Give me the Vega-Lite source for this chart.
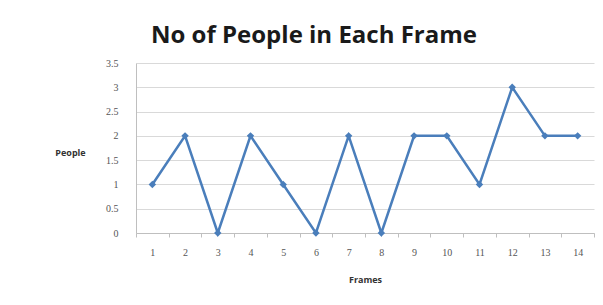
{
  "$schema": "https://vega.github.io/schema/vega-lite/v6.json",
  "width": 458,
  "height": 170,
  "autosize": {"type": "none"},
  "padding": {"left": 136, "top": 63, "right": 9, "bottom": 72},
  "background": "white",
  "title": {
    "text": "No of People in Each Frame",
    "font": "Open Sans",
    "fontSize": 24,
    "fontWeight": "bold",
    "color": "#1a1a1a",
    "anchor": "middle",
    "frame": "group",
    "dx": -51,
    "baseline": "alphabetic",
    "offset": -9
  },
  "data": {
    "values": [
      {"frame": 1, "people": 1},
      {"frame": 2, "people": 2},
      {"frame": 3, "people": 0},
      {"frame": 4, "people": 2},
      {"frame": 5, "people": 1},
      {"frame": 6, "people": 0},
      {"frame": 7, "people": 2},
      {"frame": 8, "people": 0},
      {"frame": 9, "people": 2},
      {"frame": 10, "people": 2},
      {"frame": 11, "people": 1},
      {"frame": 12, "people": 3},
      {"frame": 13, "people": 2},
      {"frame": 14, "people": 2}
    ]
  },
  "mark": {
    "type": "line",
    "color": "#4a7ebb",
    "strokeWidth": 2.5,
    "point": {"shape": "diamond", "size": 55, "filled": true, "color": "#4a7ebb"}
  },
  "encoding": {
    "x": {
      "field": "frame",
      "type": "ordinal",
      "bandPosition": 0.5,
      "scale": {"type": "band", "paddingInner": 0, "paddingOuter": 0},
      "axis": {
        "title": "Frames",
        "titleFont": "Open Sans",
        "titleFontSize": 9,
        "titleFontWeight": "bold",
        "titleColor": "#333333",
        "titleY": 46,
        "titleBaseline": "middle",
        "labelAngle": 0,
        "labelFont": "Liberation Serif",
        "labelFontSize": 10,
        "labelColor": "#555555",
        "labelPadding": 10,
        "tickBand": "extent",
        "tickSize": 4,
        "tickColor": "#bfbfbf",
        "domainColor": "#bfbfbf",
        "grid": false
      }
    },
    "y": {
      "field": "people",
      "type": "quantitative",
      "scale": {"domain": [0, 3.5], "nice": false},
      "axis": {
        "title": "People",
        "titleFont": "Open Sans",
        "titleFontSize": 9,
        "titleFontWeight": "bold",
        "titleColor": "#333333",
        "titleAngle": 0,
        "titleX": -66,
        "titleY": 89,
        "titleAlign": "center",
        "titleBaseline": "middle",
        "values": [0, 0.5, 1, 1.5, 2, 2.5, 3, 3.5],
        "format": ".1~f",
        "labelFont": "Liberation Serif",
        "labelFontSize": 10,
        "labelColor": "#555555",
        "labelPadding": 18,
        "tickSize": 0,
        "domainColor": "#bfbfbf",
        "gridColor": "#d9d9d9",
        "grid": true
      }
    }
  },
  "config": {"view": {"stroke": null}}
}
